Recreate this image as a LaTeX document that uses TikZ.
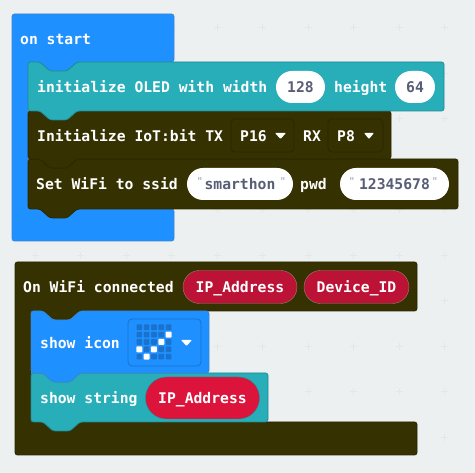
\documentclass[tikz,border=0pt]{standalone}
\usepackage{fontspec}
\setmonofont{DejaVu Sans Mono}
\usetikzlibrary{shapes.misc}
\definecolor{canvasbg}{HTML}{ECF0F1}
\definecolor{gridmark}{HTML}{E2E7E9}
\definecolor{startblue}{HTML}{1E90FF}
\definecolor{blueedge}{HTML}{3C86D0}
\definecolor{ledoff}{HTML}{1B72CC}
\definecolor{oledteal}{HTML}{27AEB9}
\definecolor{tealedge}{HTML}{1F8B94}
\definecolor{iotdark}{HTML}{363100}
\definecolor{darkedge}{HTML}{2B2700}
\definecolor{valred}{HTML}{DC143C}
\definecolor{redhead}{HTML}{BC1236}
\definecolor{pilltext}{HTML}{575E75}
\definecolor{quotemark}{HTML}{A2A6B8}
\tikzset{
  blockfont/.style={font=\ttfamily\bfseries\fontsize{14.7}{15}\selectfont},
  hatblock/.style={line width=0.8pt,rounded corners=2.5pt},
  label/.style={blockfont,anchor=base west,inner sep=0pt,text=white},
  numpill/.style={blockfont,shape=rounded rectangle,fill=white,inner sep=0pt,text=pilltext,text height=11pt,text depth=0pt},
  varpill/.style={blockfont,shape=rounded rectangle,inner sep=0pt,text=white,text height=11pt,text depth=0pt},
  quotemk/.style={inner sep=0pt,text=quotemark,font=\ttfamily\fontsize{11}{11}\selectfont},
  dropbox/.style={rounded corners=4pt,line width=0.8pt},
  droptip/.style={fill=white,rounded corners=0.8pt},
}
% stack block: #1 style, #2 top left, #3 width, #4 height
\newcommand{\stackblock}[4]{
  \filldraw[hatblock,#1] (#2) -- ++(12,0) -- ++(10,9) -- ++(17,0) -- ++(10,-9)
    -- ++(#3-49,0) -- ++(0,#4) -- ++(-#3+49,0) -- ++(-10,9) -- ++(-17,0) -- ++(-10,-9)
    -- ++(-12,0) -- cycle;
}
\begin{document}
\begin{tikzpicture}[x=1pt,y=-1pt]
\useasboundingbox (0,0) rectangle (475,473);
\fill[canvasbg] (0,0) rectangle (475,473);

%Grid marks
\foreach \gx in {35,80.5,...,450}
  \foreach \gy in {28,73.5,...,450}
    \draw[gridmark,line width=1pt] (\gx-3.5,\gy) -- (\gx+3.5,\gy) (\gx,\gy-3.5) -- (\gx,\gy+3.5);

% On start
\filldraw[hatblock,fill=startblue,draw=blueedge] (12,14) -- (174,14) -- (174,62) -- (77,62) -- (67,71) -- (50,71)
  -- (40,62) -- (28,62) -- (28,209) -- (174,209) -- (174,241) -- (12,241) -- cycle;
\stackblock{fill=iotdark,draw=darkedge}{28,159}{430}{50}
\stackblock{fill=iotdark,draw=darkedge}{28,111}{363}{48}
\stackblock{fill=oledteal,draw=tealedge}{28,62}{416}{49}
\node[label] (onstart) at (20,45) {on start};

% Initialize OLED
\node[label] (oledtext) at (37,93) {initialize OLED with width};
\node[numpill,minimum width=49pt,minimum height=32pt] (oledwidth) at (300.5,87) {128};
\node[label] (heighttext) at (334,93) {height};
\node[numpill,minimum width=40pt,minimum height=32pt] (oledheight) at (415,87) {64};

% Initialize IoT
\node[label] (iottext) at (37,142) {Initialize IoT:bit TX};
\draw[dropbox,draw=darkedge] (231,119) rectangle (294,152);
\node[label] (txpin) at (240,142) {P16};
\fill[droptip] (275,133) -- (286,133) -- (280.5,139) -- cycle;
\node[label] (rxtext) at (303,142) {RX};
\draw[dropbox,draw=darkedge] (328,119) rectangle (383,152);
\node[label] (rxpin) at (337,142) {P8};
\fill[droptip] (364,133) -- (374,133) -- (369,139) -- cycle;

% Set WiFi
\node[label] (wifitext) at (36,190) {Set WiFi to ssid};
\node[numpill,minimum width=106pt,minimum height=32pt] (ssid) at (240,184) {smarthon};
\node[quotemk] (ssidopen) at (200,181) {"};
\node[quotemk] (ssidclose) at (283,181) {"};
\node[label] (pwdtext) at (300,190) {pwd};
\node[numpill,minimum width=109pt,minimum height=32pt] (pwd) at (394.5,184) {12345678};
\node[quotemk] (pwdopen) at (352,181) {"};
\node[quotemk] (pwdclose) at (435,181) {"};

% On WiFi connected
\filldraw[hatblock,fill=iotdark,draw=darkedge] (15,262) -- (417,262) -- (417,311) -- (80,311) -- (70,320) -- (53,320)
  -- (43,311) -- (31,311) -- (31,422) -- (417,422) -- (417,455) -- (15,455) -- cycle;
\stackblock{fill=oledteal,draw=tealedge}{31,373}{237}{49}
\stackblock{fill=startblue,draw=blueedge}{31,311}{178}{62}
\node[label] (conntext) at (23,293) {On WiFi connected};
\node[varpill,fill=redhead,draw=darkedge!55!white,minimum width=114pt,minimum height=33pt] (ipvar) at (240,287) {IP\_Address};
\node[varpill,fill=redhead,draw=darkedge!55!white,minimum width=105pt,minimum height=33pt] (devvar) at (356.5,287) {Device\_ID};

% Show icon
\node[label] (icontext) at (40,349) {show icon};
\draw[dropbox,draw=ledoff] (128,319) rectangle (201,366);
\foreach \col in {0,...,4}
  \foreach \row in {0,...,4}
    \fill[ledoff,rounded corners=0.8pt] (139.3+7.33*\col-2.8,327.3+7.33*\row-2.8) rectangle ++(5.6,5.6);
\foreach \col/\row in {4/1,3/2,0/3,2/3,1/4}
  \fill[white,rounded corners=0.8pt] (139.3+7.33*\col-3,327.3+7.33*\row-3) rectangle ++(6,6);
\fill[droptip] (181,340) -- (192,340) -- (186.5,346) -- cycle;

% Show string
\node[label] (stringtext) at (40,404) {show string};
\node[varpill,fill=valred,draw=tealedge,minimum width=114pt,minimum height=42pt] (ipstring) at (202.5,398) {IP\_Address};
\end{tikzpicture}
\end{document}
